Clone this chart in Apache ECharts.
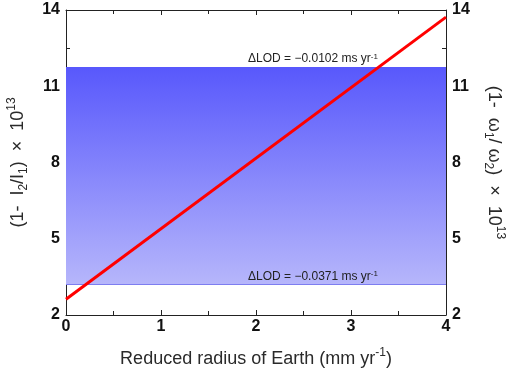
<!DOCTYPE html>
<html>
<head>
<meta charset="utf-8">
<script src="https://cdn.jsdelivr.net/npm/echarts@6/dist/echarts.min.js"></script>
<style>
  html, body { margin: 0; padding: 0; background: #fff; }
  #chart { width: 512px; height: 370px; }
</style>
</head>
<body>
<div id="chart"></div>
<script>
// data
var lineX = [0, 4];
var lineY = [2.62, 13.72];
var bandLimits = [3.21, 11.76];   // LOD range, lower / upper
var bandLabels = ['\u0394LOD = \u22120.0371 ms yr{sup|-1}', '\u0394LOD = \u22120.0102 ms yr{sup|-1}'];
var bandLabelX = 2.6;
var xTicks = [0, 4, 1];   // min, max, interval
var yTicks = [2, 14, 3];

var chart = echarts.init(document.getElementById('chart'));

var axisColor = '#222';
var font = 'Liberation Sans, Arial, sans-serif';

var nameRich = {
  base: { fontSize: 18, color: '#2a2a2a', fontFamily: font, lineHeight: 24 },
  sub: { fontSize: 12, color: '#2a2a2a', fontFamily: font, verticalAlign: 'bottom', lineHeight: 13 },
  sup: { fontSize: 12, color: '#2a2a2a', fontFamily: font, verticalAlign: 'top', lineHeight: 13 }
};

function makeX(pos, showLabel) {
  return {
    type: 'value',
    position: pos,
    min: xTicks[0],
    max: xTicks[1],
    interval: xTicks[2],
    axisLine: { show: true, onZero: false, lineStyle: { color: axisColor, width: 1 } },
    axisTick: { show: true, inside: true, length: 5, lineStyle: { color: axisColor } },
    minorTick: { show: true, splitNumber: 2, length: 4, lineStyle: { color: axisColor } },
    splitLine: { show: false },
    axisLabel: {
      show: showLabel, margin: 4, color: '#111', fontSize: 16, fontWeight: 'bold', fontFamily: font
    }
  };
}

function makeY(pos, name, rotate, gap) {
  return {
    type: 'value',
    position: pos,
    min: yTicks[0],
    max: yTicks[1],
    interval: yTicks[2],
    name: name,
    nameLocation: 'middle',
    nameRotate: rotate,
    nameGap: gap,
    nameTextStyle: { rich: nameRich },
    axisLine: { show: true, onZero: false, lineStyle: { color: axisColor, width: 1 } },
    axisTick: { show: true, inside: true, length: 5, lineStyle: { color: axisColor } },
    minorTick: { show: true, splitNumber: 2, length: 4, lineStyle: { color: axisColor } },
    splitLine: { show: false },
    axisLabel: { margin: 6, color: '#111', fontSize: 16, fontWeight: 'bold', fontFamily: font }
  };
}

var xBottom = makeX('bottom', true);
xBottom.name = '{base|Reduced radius of Earth (mm yr}{sup|-1}{base|)}';
xBottom.nameLocation = 'middle';
xBottom.nameGap = 32;
xBottom.nameTextStyle = { rich: nameRich };

var labelRich = {
  sup: { fontSize: 8, color: '#222', fontFamily: font, verticalAlign: 'top', lineHeight: 9 }
};

var option = {
  animation: false,
  grid: { left: 66, right: 66, top: 10, bottom: 55, outerBoundsMode: 'none' },
  xAxis: [xBottom, makeX('top', false)],
  yAxis: [
    makeY('left', '{base|(1-  I}{sub|2}{base|/I}{sub|1}{base|)  \u00d7  10}{sup|13}', 90, 36),
    makeY('right', '{base|(1-  \u03c9}{sub|1}{base|/ \u03c9}{sub|2}{base|)  \u00d7  10}{sup|13}', -90, 36)
  ],
  series: [{
    type: 'line',
    data: lineX.map(function (x, i) { return [x, lineY[i]]; }),
    symbol: 'none',
    z: 5,
    lineStyle: { color: '#ff0000', width: 3 },
    markArea: {
      silent: true,
      itemStyle: {
        color: new echarts.graphic.LinearGradient(0, 0, 0, 1, [
          { offset: 0, color: '#5858fc' },
          { offset: 1, color: '#b6b6fb' }
        ])
      },
      data: [[{ yAxis: bandLimits[0] }, { yAxis: bandLimits[1] }]]
    },
    markLine: {
      silent: true,
      symbol: 'none',
      label: { show: false },
      lineStyle: { color: '#7d7df0', width: 1, type: 'solid' },
      data: [{ yAxis: bandLimits[0] }]
    },
    markPoint: {
      silent: true,
      symbol: 'circle',
      symbolSize: 0,
      label: {
        show: true,
        position: 'top',
        distance: 2,
        color: '#222',
        fontSize: 12,
        fontFamily: font,
        rich: labelRich,
        formatter: function (p) { return p.name; }
      },
      data: bandLimits.map(function (v, i) {
        return { name: bandLabels[i], coord: [bandLabelX, v] };
      })
    }
  }]
};

chart.setOption(option);
</script>
</body>
</html>
